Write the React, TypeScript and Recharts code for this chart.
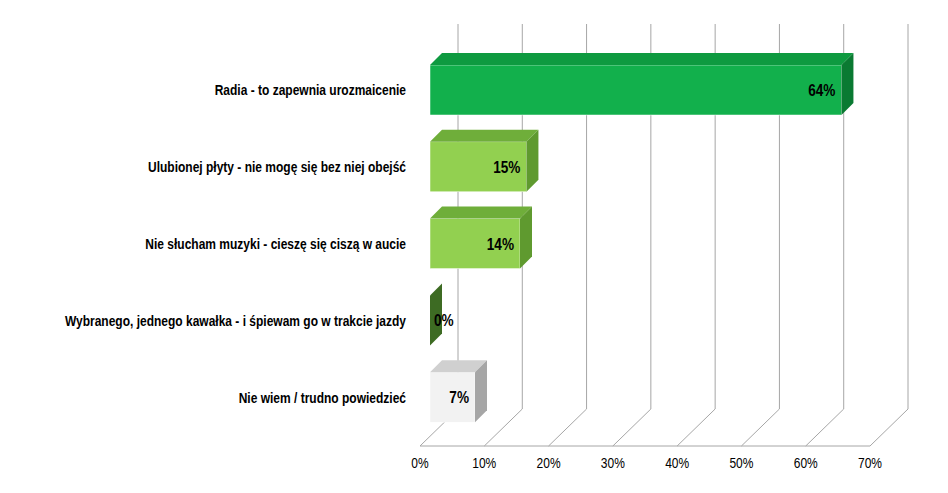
import { BarChart, Bar, XAxis, YAxis, CartesianGrid } from "recharts";

const categories = [
  "Radia - to zapewnia urozmaicenie",
  "Ulubionej płyty - nie mogę się bez niej obejść",
  "Nie słucham muzyki - cieszę się ciszą w aucie",
  "Wybranego, jednego kawałka - i śpiewam go w trakcie jazdy",
  "Nie wiem / trudno powiedzieć",
];
const values = [0.64, 0.15, 0.14, 0.0, 0.07];
const fronts = ["#12b04c", "#92d050", "#92d050", "#548235", "#f2f2f2"];
const sides = ["#0a7a32", "#5f9a2f", "#5f9a2f", "#3d6b23", "#a6a6a6"];
const tops = ["#0e9a40", "#6fae3a", "#6fae3a", "#4a7a2e", "#d0d0d0"];
const xTicks = [0, 0.1, 0.2, 0.3, 0.4, 0.5, 0.6, 0.7];

const data = categories.map((name, i) => ({ name, value: values[i], idx: i }));
const FONT = "'Liberation Sans', Arial, sans-serif";
const D = 38;
const SQ = 0.8;

function Box(props: any) {
  const { x, y, width, height, payload } = props;
  const i = payload.idx;
  const sx = x + 10;
  const sy = y - 10;
  const w = Math.max(0, width);
  const d = 12;
  const label = `${Math.round(payload.value * 100)}%`;
  const inside = w > 40;
  const tx = inside ? sx + w - 6 : sx + w + d - 8;
  return (
    <g>
      <rect x={sx} y={sy} width={w} height={height} fill={fronts[i]} stroke="#fff" strokeWidth={0.5} />
      <path d={`M${sx},${sy} L${sx + d},${sy - d} L${sx + w + d},${sy - d} L${sx + w},${sy} Z`} fill={tops[i]} />
      <path d={`M${sx + w},${sy} L${sx + w + d},${sy - d} L${sx + w + d},${sy + height - d} L${sx + w},${sy + height} Z`} fill={sides[i]} />
      <text
        transform={`translate(${tx},${sy + height / 2 + 6}) scale(${SQ},1)`}
        textAnchor={inside ? "end" : "start"}
        fontFamily={FONT}
        fontWeight="bold"
        fontSize={17}
        fill="#000"
      >
        {label}
      </text>
    </g>
  );
}

function CatTick(props: any) {
  const { x, y, payload } = props;
  return (
    <text
      transform={`translate(${x - 6},${y - 5}) scale(${SQ},1)`}
      textAnchor="end"
      fontFamily={FONT}
      fontWeight="bold"
      fontSize={15}
      fill="#000"
    >
      {payload.value}
    </text>
  );
}

function PctTick(props: any) {
  const { x, y, payload } = props;
  return (
    <text
      transform={`translate(${x},${y + 14}) scale(${SQ},1)`}
      textAnchor="middle"
      fontFamily={FONT}
      fontSize={15}
      fill="#000"
    >
      {`${Math.round(payload.value * 100)}%`}
    </text>
  );
}

function GridLine(props: any) {
  const { x1, y1, y2 } = props;
  return (
    <path
      d={`M${x1},${y2} L${x1 + D},${y2 - D + 1} L${x1 + D},${y1 - D}`}
      fill="none"
      stroke="#a6a6a6"
      strokeWidth={1}
    />
  );
}

export default function App() {
  return (
    <div style={{ margin: -8, background: "#fff", width: 948, height: 493 }}>
      <BarChart
        width={948}
        height={493}
        data={data}
        layout="vertical"
        margin={{ top: 62, right: 78, bottom: 17, left: 0 }}
        barSize={50}
      >
        <CartesianGrid horizontal={false} vertical={GridLine as any} />
        <XAxis
          type="number"
          domain={[0, 0.7]}
          ticks={xTicks}
          tick={PctTick}
          axisLine={{ stroke: "#a6a6a6" }}
          tickLine={false}
          height={30}
        />
        <YAxis
          type="category"
          dataKey="name"
          width={420}
          tick={CatTick}
          axisLine={false}
          tickLine={false}
        />
        <Bar dataKey="value" shape={Box} isAnimationActive={false} />
      </BarChart>
    </div>
  );
}
